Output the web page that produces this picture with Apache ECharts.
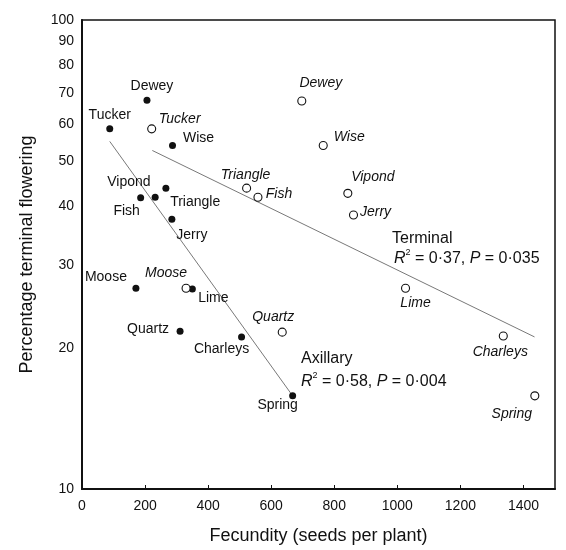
<!DOCTYPE html>
<html><head><meta charset="utf-8">
<script src="https://cdn.jsdelivr.net/npm/echarts@6/dist/echarts.min.js"></script>
<style>html,body{margin:0;padding:0;background:#fff}#c{width:566px;height:550px}</style>
</head><body><div id="c"></div>
<script>
// Axillary (filled) points: [fecundity, % terminal flowering]
const axNames = ['Tucker','Dewey','Wise','Vipond','Fish','Triangle','Jerry','Moose','Lime','Quartz','Charleys','Spring'];
const axX = [88, 206, 287, 266, 186, 232, 285, 171, 350, 311, 506, 668];
const axY = [58.6, 67.4, 54.0, 43.8, 41.8, 41.9, 37.6, 26.8, 26.7, 21.7, 21.1, 15.8];
// Terminal (open) points
const tmNames = ['Tucker','Dewey','Wise','Triangle','Fish','Vipond','Jerry','Lime','Quartz','Moose','Charleys','Spring'];
const tmX = [221, 697, 765, 522, 558, 843, 861, 1026, 635, 330, 1336, 1436];
const tmY = [58.6, 67.2, 54.0, 43.8, 41.9, 42.7, 38.4, 26.8, 21.6, 26.8, 21.2, 15.8];
// Regression lines (end points)
const axFitX = [88, 665];
const axFitY = [55.1, 15.9];
const tmFitX = [223, 1435];
const tmFitY = [52.7, 21.1];
// Tick labels
const xTicks = [0, 200, 400, 600, 800, 1000, 1200, 1400];
const yTicks = [10, 20, 30, 40, 50, 60, 70, 80, 90, 100];

// label offsets (px) relative to point
const axOff = {Tucker:[0,-14],Dewey:[5,-14],Wise:[26,-7],Vipond:[-37,-6],Fish:[-14,13],Triangle:[40,5],Jerry:[20,16],Moose:[-30,-11],Lime:[21,9],Quartz:[-32,-2],Charleys:[-20,12],Spring:[-15,9]};
const tmOff = {Tucker:[28,-10],Dewey:[19,-18],Wise:[26,-8],Triangle:[-1,-13],Fish:[21,-3],Vipond:[25,-16],Jerry:[22,-3],Lime:[10,15],Quartz:[-9,-15],Moose:[-20,-15],Charleys:[-3,16],Spring:[-23,18]};

const FONT = 'Liberation Sans';
const INK = '#111';
function mk(xs, ys, names, offs, italic){
  return xs.map((x,i)=>({
    value:[x, ys[i]],
    label:{show:true, formatter:names[i], position:'inside', align:'center', verticalAlign:'middle',
      offset:offs[names[i]], fontStyle: italic?'italic':'normal', fontFamily:FONT, fontSize:14,
      color:INK, textBorderWidth:0, opacity:1}
  }));
}
const supRich = {i:{fontFamily:FONT, fontSize:16, fontStyle:'italic', fill:INK},
  s:{fontFamily:FONT, fontSize:9, fill:INK, padding:[0,0,13,0]},
  n:{fontFamily:FONT, fontSize:16, fill:INK}};

const chart = echarts.init(document.getElementById('c'), null, {renderer:'canvas'});
chart.setOption({
  animation:false,
  grid:{left:82, right:11, top:20, bottom:59, show:true, borderColor:INK, borderWidth:1.5, backgroundColor:'transparent'},
  xAxis:{type:'value', min:0, max:1500, interval:200,
    name:'Fecundity (seeds per plant)', nameLocation:'middle', nameGap:38,
    nameTextStyle:{fontFamily:FONT, fontSize:18, color:INK},
    axisLine:{lineStyle:{color:INK, width:2}},
    axisTick:{inside:true, length:4, lineStyle:{color:INK}, customValues:xTicks},
    axisLabel:{fontFamily:FONT, fontSize:14, color:INK, margin:10, customValues:xTicks, formatter:v=>String(v)},
    splitLine:{show:false}},
  yAxis:{type:'log', logBase:10, min:10, max:100,
    name:'Percentage terminal flowering', nameLocation:'middle', nameGap:46,
    nameTextStyle:{fontFamily:FONT, fontSize:18, color:INK},
    axisLine:{lineStyle:{color:INK, width:2}},
    axisTick:{show:false},
    axisLabel:{fontFamily:FONT, fontSize:14, color:INK, margin:8, customValues:yTicks, formatter:v=>String(v)},
    splitLine:{show:false}, minorTick:{show:false}},
  series:[
    {type:'line', data:axFitX.map((x,i)=>[x,axFitY[i]]), symbol:'none', lineStyle:{color:'#555', width:0.8}, z:1, silent:true},
    {type:'line', data:tmFitX.map((x,i)=>[x,tmFitY[i]]), symbol:'none', lineStyle:{color:'#555', width:0.8}, z:1, silent:true},
    {type:'scatter', data:mk(axX, axY, axNames, axOff, false), symbol:'circle', symbolSize:7,
      itemStyle:{color:INK, opacity:1}, z:3},
    {type:'scatter', data:mk(tmX, tmY, tmNames, tmOff, true), symbol:'circle', symbolSize:8,
      itemStyle:{color:'#fff', borderColor:INK, borderWidth:1.1, opacity:1}, z:3}
  ],
  graphic:[
    {type:'text', left:392, top:231, style:{text:'Terminal', fontFamily:FONT, fontSize:16, fill:INK}},
    {type:'text', left:394, top:248, style:{text:'{i|R}{s|2}{n| = 0·37, }{i|P}{n| = 0·035}', rich:supRich}},
    {type:'text', left:301, top:351, style:{text:'Axillary', fontFamily:FONT, fontSize:16, fill:INK}},
    {type:'text', left:301, top:371, style:{text:'{i|R}{s|2}{n| = 0·58, }{i|P}{n| = 0·004}', rich:supRich}}
  ]
});
</script></body></html>
